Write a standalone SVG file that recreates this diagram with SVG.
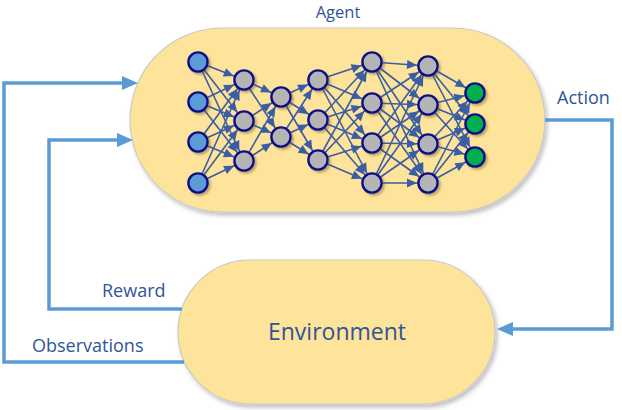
<svg xmlns="http://www.w3.org/2000/svg" width="622" height="410" viewBox="0 0 622 410">
<style>
text{font-family:"Open Sans","Noto Sans",sans-serif;fill:#2F5597}
.lbl{font-size:18px}
.pill{fill:#FEE49A;stroke:#C9C9C9;stroke-width:1.2}
.c{fill:none;stroke:#5B9BD5;stroke-width:3.5}
.e{stroke:#3A5DA3;stroke-width:1.6}
.n{stroke:#10108A;stroke-width:2.4}
.in{fill:#5B9BD5}
.hid{fill:#B4B4B4}
.out{fill:#00B050}
</style>
<defs>
<filter id="sh" x="-10%" y="-10%" width="130%" height="130%">
<feDropShadow dx="2" dy="3" stdDeviation="2" flood-color="#000" flood-opacity="0.25"/>
</filter>
<filter id="nsh" x="-30%" y="-30%" width="170%" height="170%">
<feDropShadow dx="2" dy="2" stdDeviation="1.2" flood-color="#6B5A20" flood-opacity="0.45"/>
</filter>
<marker id="ah" markerUnits="userSpaceOnUse" markerWidth="12" markerHeight="12" refX="11" refY="0" orient="auto" overflow="visible">
<path d="M0,0 L-10,-4.5 L-10,4.5 z" fill="#3A5DA3"/>
</marker>
<marker id="big" markerUnits="userSpaceOnUse" markerWidth="16" markerHeight="16" refX="0" refY="0" orient="auto" overflow="visible">
<path d="M-1,-7 L15,0 L-1,7 z" fill="#5B9BD5"/>
</marker>
</defs>

<g id="agent">
<rect class="pill" x="130" y="28" width="415" height="184" rx="92" filter="url(#sh)"/>
<text x="338" y="18" text-anchor="middle" font-size="16.5">Agent</text>
</g>

<g id="environment">
<rect class="pill" x="178" y="260" width="317" height="144" rx="72" filter="url(#sh)"/>
<text x="337" y="340" text-anchor="middle" font-size="23">Environment</text>
</g>

<g id="connectors">
<path class="c" d="M184,362 H4 V83 H123" marker-end="url(#big)"/>
<path class="c" d="M182,309 H49 V140 H118" marker-end="url(#big)"/>
<path class="c" d="M545,120 H612 V329 H512" marker-end="url(#big)"/>
<text class="lbl" x="32" y="352">Observations</text>
<text class="lbl" x="102" y="297">Reward</text>
<text class="lbl" x="557" y="104">Action</text>
</g>

<g id="network-edges">
<line class="e" x1="198" y1="62" x2="244" y2="80" marker-end="url(#ah)"/>
<line class="e" x1="198" y1="62" x2="244" y2="121" marker-end="url(#ah)"/>
<line class="e" x1="198" y1="62" x2="244" y2="161" marker-end="url(#ah)"/>
<line class="e" x1="198" y1="102" x2="244" y2="80" marker-end="url(#ah)"/>
<line class="e" x1="198" y1="102" x2="244" y2="121" marker-end="url(#ah)"/>
<line class="e" x1="198" y1="102" x2="244" y2="161" marker-end="url(#ah)"/>
<line class="e" x1="198" y1="142" x2="244" y2="80" marker-end="url(#ah)"/>
<line class="e" x1="198" y1="142" x2="244" y2="121" marker-end="url(#ah)"/>
<line class="e" x1="198" y1="142" x2="244" y2="161" marker-end="url(#ah)"/>
<line class="e" x1="198" y1="183" x2="244" y2="80" marker-end="url(#ah)"/>
<line class="e" x1="198" y1="183" x2="244" y2="121" marker-end="url(#ah)"/>
<line class="e" x1="198" y1="183" x2="244" y2="161" marker-end="url(#ah)"/>

<line class="e" x1="244" y1="80" x2="281" y2="97" marker-end="url(#ah)"/>
<line class="e" x1="244" y1="80" x2="281" y2="137" marker-end="url(#ah)"/>
<line class="e" x1="244" y1="121" x2="281" y2="97" marker-end="url(#ah)"/>
<line class="e" x1="244" y1="121" x2="281" y2="137" marker-end="url(#ah)"/>
<line class="e" x1="244" y1="161" x2="281" y2="97" marker-end="url(#ah)"/>
<line class="e" x1="244" y1="161" x2="281" y2="137" marker-end="url(#ah)"/>

<line class="e" x1="281" y1="97" x2="318" y2="80" marker-end="url(#ah)"/>
<line class="e" x1="281" y1="97" x2="318" y2="120" marker-end="url(#ah)"/>
<line class="e" x1="281" y1="97" x2="318" y2="160" marker-end="url(#ah)"/>
<line class="e" x1="281" y1="137" x2="318" y2="80" marker-end="url(#ah)"/>
<line class="e" x1="281" y1="137" x2="318" y2="120" marker-end="url(#ah)"/>
<line class="e" x1="281" y1="137" x2="318" y2="160" marker-end="url(#ah)"/>

<line class="e" x1="318" y1="80" x2="372" y2="62" marker-end="url(#ah)"/>
<line class="e" x1="318" y1="80" x2="372" y2="103" marker-end="url(#ah)"/>
<line class="e" x1="318" y1="80" x2="372" y2="143" marker-end="url(#ah)"/>
<line class="e" x1="318" y1="80" x2="372" y2="183" marker-end="url(#ah)"/>
<line class="e" x1="318" y1="120" x2="372" y2="62" marker-end="url(#ah)"/>
<line class="e" x1="318" y1="120" x2="372" y2="103" marker-end="url(#ah)"/>
<line class="e" x1="318" y1="120" x2="372" y2="143" marker-end="url(#ah)"/>
<line class="e" x1="318" y1="120" x2="372" y2="183" marker-end="url(#ah)"/>
<line class="e" x1="318" y1="160" x2="372" y2="62" marker-end="url(#ah)"/>
<line class="e" x1="318" y1="160" x2="372" y2="103" marker-end="url(#ah)"/>
<line class="e" x1="318" y1="160" x2="372" y2="143" marker-end="url(#ah)"/>
<line class="e" x1="318" y1="160" x2="372" y2="183" marker-end="url(#ah)"/>

<line class="e" x1="372" y1="62" x2="428" y2="66" marker-end="url(#ah)"/>
<line class="e" x1="372" y1="62" x2="428" y2="105" marker-end="url(#ah)"/>
<line class="e" x1="372" y1="62" x2="428" y2="144" marker-end="url(#ah)"/>
<line class="e" x1="372" y1="62" x2="428" y2="183" marker-end="url(#ah)"/>
<line class="e" x1="372" y1="103" x2="428" y2="66" marker-end="url(#ah)"/>
<line class="e" x1="372" y1="103" x2="428" y2="105" marker-end="url(#ah)"/>
<line class="e" x1="372" y1="103" x2="428" y2="144" marker-end="url(#ah)"/>
<line class="e" x1="372" y1="103" x2="428" y2="183" marker-end="url(#ah)"/>
<line class="e" x1="372" y1="143" x2="428" y2="66" marker-end="url(#ah)"/>
<line class="e" x1="372" y1="143" x2="428" y2="105" marker-end="url(#ah)"/>
<line class="e" x1="372" y1="143" x2="428" y2="144" marker-end="url(#ah)"/>
<line class="e" x1="372" y1="143" x2="428" y2="183" marker-end="url(#ah)"/>
<line class="e" x1="372" y1="183" x2="428" y2="66" marker-end="url(#ah)"/>
<line class="e" x1="372" y1="183" x2="428" y2="105" marker-end="url(#ah)"/>
<line class="e" x1="372" y1="183" x2="428" y2="144" marker-end="url(#ah)"/>
<line class="e" x1="372" y1="183" x2="428" y2="183" marker-end="url(#ah)"/>

<line class="e" x1="428" y1="66" x2="475" y2="93" marker-end="url(#ah)"/>
<line class="e" x1="428" y1="66" x2="475" y2="124" marker-end="url(#ah)"/>
<line class="e" x1="428" y1="66" x2="475" y2="157" marker-end="url(#ah)"/>
<line class="e" x1="428" y1="105" x2="475" y2="93" marker-end="url(#ah)"/>
<line class="e" x1="428" y1="105" x2="475" y2="124" marker-end="url(#ah)"/>
<line class="e" x1="428" y1="105" x2="475" y2="157" marker-end="url(#ah)"/>
<line class="e" x1="428" y1="144" x2="475" y2="93" marker-end="url(#ah)"/>
<line class="e" x1="428" y1="144" x2="475" y2="124" marker-end="url(#ah)"/>
<line class="e" x1="428" y1="144" x2="475" y2="157" marker-end="url(#ah)"/>
<line class="e" x1="428" y1="183" x2="475" y2="93" marker-end="url(#ah)"/>
<line class="e" x1="428" y1="183" x2="475" y2="124" marker-end="url(#ah)"/>
<line class="e" x1="428" y1="183" x2="475" y2="157" marker-end="url(#ah)"/>
</g>

<g id="network-nodes" filter="url(#nsh)">
<g id="layer-input">
<circle class="n in" cx="198" cy="62" r="9.6"/>
<circle class="n in" cx="198" cy="102" r="9.6"/>
<circle class="n in" cx="198" cy="142" r="9.6"/>
<circle class="n in" cx="198" cy="183" r="9.6"/>
</g>
<g id="layer-2">
<circle class="n hid" cx="244" cy="80" r="9.6"/>
<circle class="n hid" cx="244" cy="121" r="9.6"/>
<circle class="n hid" cx="244" cy="161" r="9.6"/>
</g>
<g id="layer-3">
<circle class="n hid" cx="281" cy="97" r="9.6"/>
<circle class="n hid" cx="281" cy="137" r="9.6"/>
</g>
<g id="layer-4">
<circle class="n hid" cx="318" cy="80" r="9.6"/>
<circle class="n hid" cx="318" cy="120" r="9.6"/>
<circle class="n hid" cx="318" cy="160" r="9.6"/>
</g>
<g id="layer-5">
<circle class="n hid" cx="372" cy="62" r="9.6"/>
<circle class="n hid" cx="372" cy="103" r="9.6"/>
<circle class="n hid" cx="372" cy="143" r="9.6"/>
<circle class="n hid" cx="372" cy="183" r="9.6"/>
</g>
<g id="layer-6">
<circle class="n hid" cx="428" cy="66" r="9.6"/>
<circle class="n hid" cx="428" cy="105" r="9.6"/>
<circle class="n hid" cx="428" cy="144" r="9.6"/>
<circle class="n hid" cx="428" cy="183" r="9.6"/>
</g>
<g id="layer-output">
<circle class="n out" cx="475" cy="93" r="9.6"/>
<circle class="n out" cx="475" cy="124" r="9.6"/>
<circle class="n out" cx="475" cy="157" r="9.6"/>
</g>
</g>
</svg>
